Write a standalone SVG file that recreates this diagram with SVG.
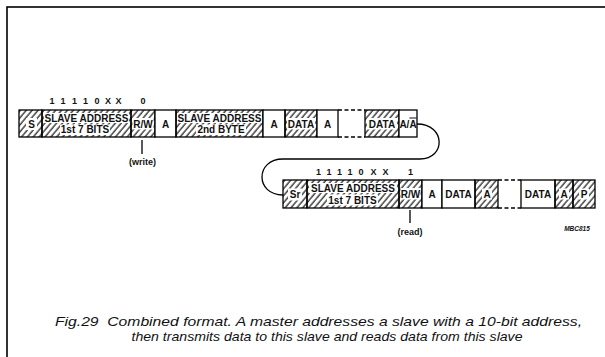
<svg xmlns="http://www.w3.org/2000/svg" width="605" height="357" viewBox="0 0 605 357">
<defs>
<pattern id="hatch" patternUnits="userSpaceOnUse" width="4.5" height="10" patternTransform="rotate(40)">
<line x1="1" y1="0" x2="1" y2="10" stroke="#000" stroke-width="1.1"/>
</pattern>
<style>
.c{stroke:#000;stroke-width:1.3}
.h{fill:url(#hatch)}
.w{fill:#fff}
.bg{fill:#fff;stroke:none}
.t{font-family:"Liberation Sans",Arial,sans-serif;font-weight:bold;font-size:10px;text-anchor:middle;fill:#111}
.d{font-family:"Liberation Sans",Arial,sans-serif;font-weight:bold;font-size:9px;text-anchor:middle;fill:#111}
.dash{stroke:#000;stroke-width:1.3;stroke-dasharray:4 2.5;fill:none}
.cap{font-family:"Liberation Sans",Arial,sans-serif;font-style:italic;font-size:13px;fill:#111}
.ln{stroke:#000;stroke-width:1.3;fill:none}
</style>
</defs>
<rect width="605" height="357" fill="#fff"/>
<rect x="7" y="7" width="620" height="370" fill="none" stroke="#000" stroke-width="1.6"/>

<!-- bit labels -->
<g id="bits1">
<text class="d" x="52" y="104">1</text><text class="d" x="63" y="104">1</text><text class="d" x="74.5" y="104">1</text><text class="d" x="85.5" y="104">1</text><text class="d" x="97" y="104">0</text><text class="d" x="108" y="104">X</text><text class="d" x="118.5" y="104">X</text><text class="d" x="143" y="104">0</text>
</g>
<g id="bits2">
<text class="d" x="318.5" y="175">1</text><text class="d" x="329" y="175">1</text><text class="d" x="339.5" y="175">1</text><text class="d" x="350" y="175">1</text><text class="d" x="361" y="175">0</text><text class="d" x="373.5" y="175">X</text><text class="d" x="385.5" y="175">X</text><text class="d" x="410.5" y="175">1</text>
</g>

<!-- Row 1 -->
<g id="r1-s"><rect class="c h" x="19" y="110" width="23" height="27"/><rect class="bg" x="26" y="118" width="11" height="12"/><text class="t" x="31.5" y="127.5">S</text></g>
<g id="r1-addr1"><rect class="c h" x="42" y="110" width="89" height="27"/><rect class="bg" x="44" y="113" width="85" height="10"/><rect class="bg" x="60" y="124.5" width="50" height="10.5"/><text class="t" x="86.5" y="121.5">SLAVE ADDRESS</text><text class="t" x="85" y="133">1st 7 BITS</text></g>
<g id="r1-rw"><rect class="c h" x="131" y="110" width="24" height="27"/><rect class="bg" x="132.5" y="118" width="21" height="11.5"/><text class="t" x="143" y="127.5" font-size="9">R/W</text></g>
<g id="r1-a1"><rect class="c w" x="155" y="110" width="21" height="27"/><text class="t" x="165.5" y="127.5">A</text></g>
<g id="r1-addr2"><rect class="c h" x="176" y="110" width="87" height="27"/><rect class="bg" x="177" y="113" width="85" height="10"/><rect class="bg" x="196" y="124.5" width="50" height="10.5"/><text class="t" x="219.5" y="121.5">SLAVE ADDRESS</text><text class="t" x="221" y="133">2nd BYTE</text></g>
<g id="r1-a2"><rect class="c w" x="263" y="110" width="22" height="27"/><text class="t" x="274" y="127.5">A</text></g>
<g id="r1-data1"><rect class="c h" x="285" y="110" width="32" height="27"/><rect class="bg" x="287" y="118" width="28" height="11.5"/><text class="t" x="301" y="127.5" font-size="9.5">DATA</text></g>
<g id="r1-a3"><rect class="c w" x="317" y="110" width="21" height="27"/><text class="t" x="327.5" y="127.5">A</text></g>
<g id="r1-gap"><line class="dash" x1="338" y1="110" x2="365" y2="110"/><line class="dash" x1="338" y1="137" x2="365" y2="137"/></g>
<g id="r1-data2"><rect class="c h" x="365" y="110" width="34" height="27"/><rect class="bg" x="367" y="118" width="30" height="11.5"/><text class="t" x="382" y="127.5" font-size="9.5">DATA</text></g>
<g id="r1-aa"><rect class="c w" x="399" y="110" width="18" height="27"/><text class="t" x="408" y="127.5" font-size="8.5">A/<tspan text-decoration="overline">A</tspan></text></g>

<!-- Row 2 -->
<g id="r2-sr"><rect class="c h" x="283" y="180" width="24" height="28"/><rect class="bg" x="288" y="188.5" width="14" height="12"/><text class="t" x="295" y="198">Sr</text></g>
<g id="r2-addr1"><rect class="c h" x="307" y="180" width="92" height="28"/><rect class="bg" x="309" y="183" width="88" height="10"/><rect class="bg" x="327" y="194.5" width="51" height="11"/><text class="t" x="353" y="191.5">SLAVE ADDRESS</text><text class="t" x="352.5" y="203.5">1st 7 BITS</text></g>
<g id="r2-rw"><rect class="c h" x="399" y="180" width="23" height="28"/><rect class="bg" x="400.5" y="188" width="20" height="11.5"/><text class="t" x="410.5" y="197.5" font-size="9">R/W</text></g>
<g id="r2-a1"><rect class="c w" x="422" y="180" width="20" height="28"/><text class="t" x="432" y="197.5">A</text></g>
<g id="r2-data1"><rect class="c w" x="442" y="180" width="33" height="28"/><text class="t" x="458.5" y="197.5" font-size="9.5">DATA</text></g>
<g id="r2-a2"><rect class="c h" x="475" y="180" width="23" height="28"/><rect class="bg" x="482" y="188.5" width="10" height="11"/><text class="t" x="487" y="197.5">A</text></g>
<g id="r2-gap"><line class="dash" x1="498" y1="180" x2="521" y2="180"/><line class="dash" x1="498" y1="208" x2="521" y2="208"/></g>
<g id="r2-data2"><rect class="c w" x="521" y="180" width="34" height="28"/><text class="t" x="538" y="197.5" font-size="9.5">DATA</text></g>
<g id="r2-a3"><rect class="c h" x="555" y="180" width="18" height="28"/><rect class="bg" x="559" y="188.5" width="10" height="11"/><text class="t" x="564" y="197.5">A</text></g>
<g id="r2-p"><rect class="c h" x="573" y="180" width="22" height="28"/><rect class="bg" x="579" y="188.5" width="10" height="11"/><text class="t" x="584" y="197.5">P</text></g>

<!-- connectors -->
<g id="connectors">
<path class="ln" d="M417 124 C446 124 446 159 420 159 L283 159 C255 159 255 195 283 195"/>
<line class="ln" x1="142" y1="140" x2="142" y2="154"/>
<line class="ln" x1="410" y1="210" x2="410" y2="223"/>
</g>

<g id="notes">
<text class="d" x="142.5" y="165">(write)</text>
<text class="d" x="410" y="235">(read)</text>
<text x="577" y="230.5" font-family="Liberation Sans, Arial, sans-serif" font-weight="bold" font-style="italic" font-size="6.5" text-anchor="middle" fill="#111">MBC815</text>
</g>

<g id="caption">
<text class="cap" x="55" y="326" textLength="527" lengthAdjust="spacingAndGlyphs">Fig.29&#160; Combined format. A master addresses a slave with a 10-bit address,</text>
<text class="cap" x="131.5" y="341" textLength="391" lengthAdjust="spacingAndGlyphs">then transmits data to this slave and reads data from this slave</text>
</g>
</svg>
